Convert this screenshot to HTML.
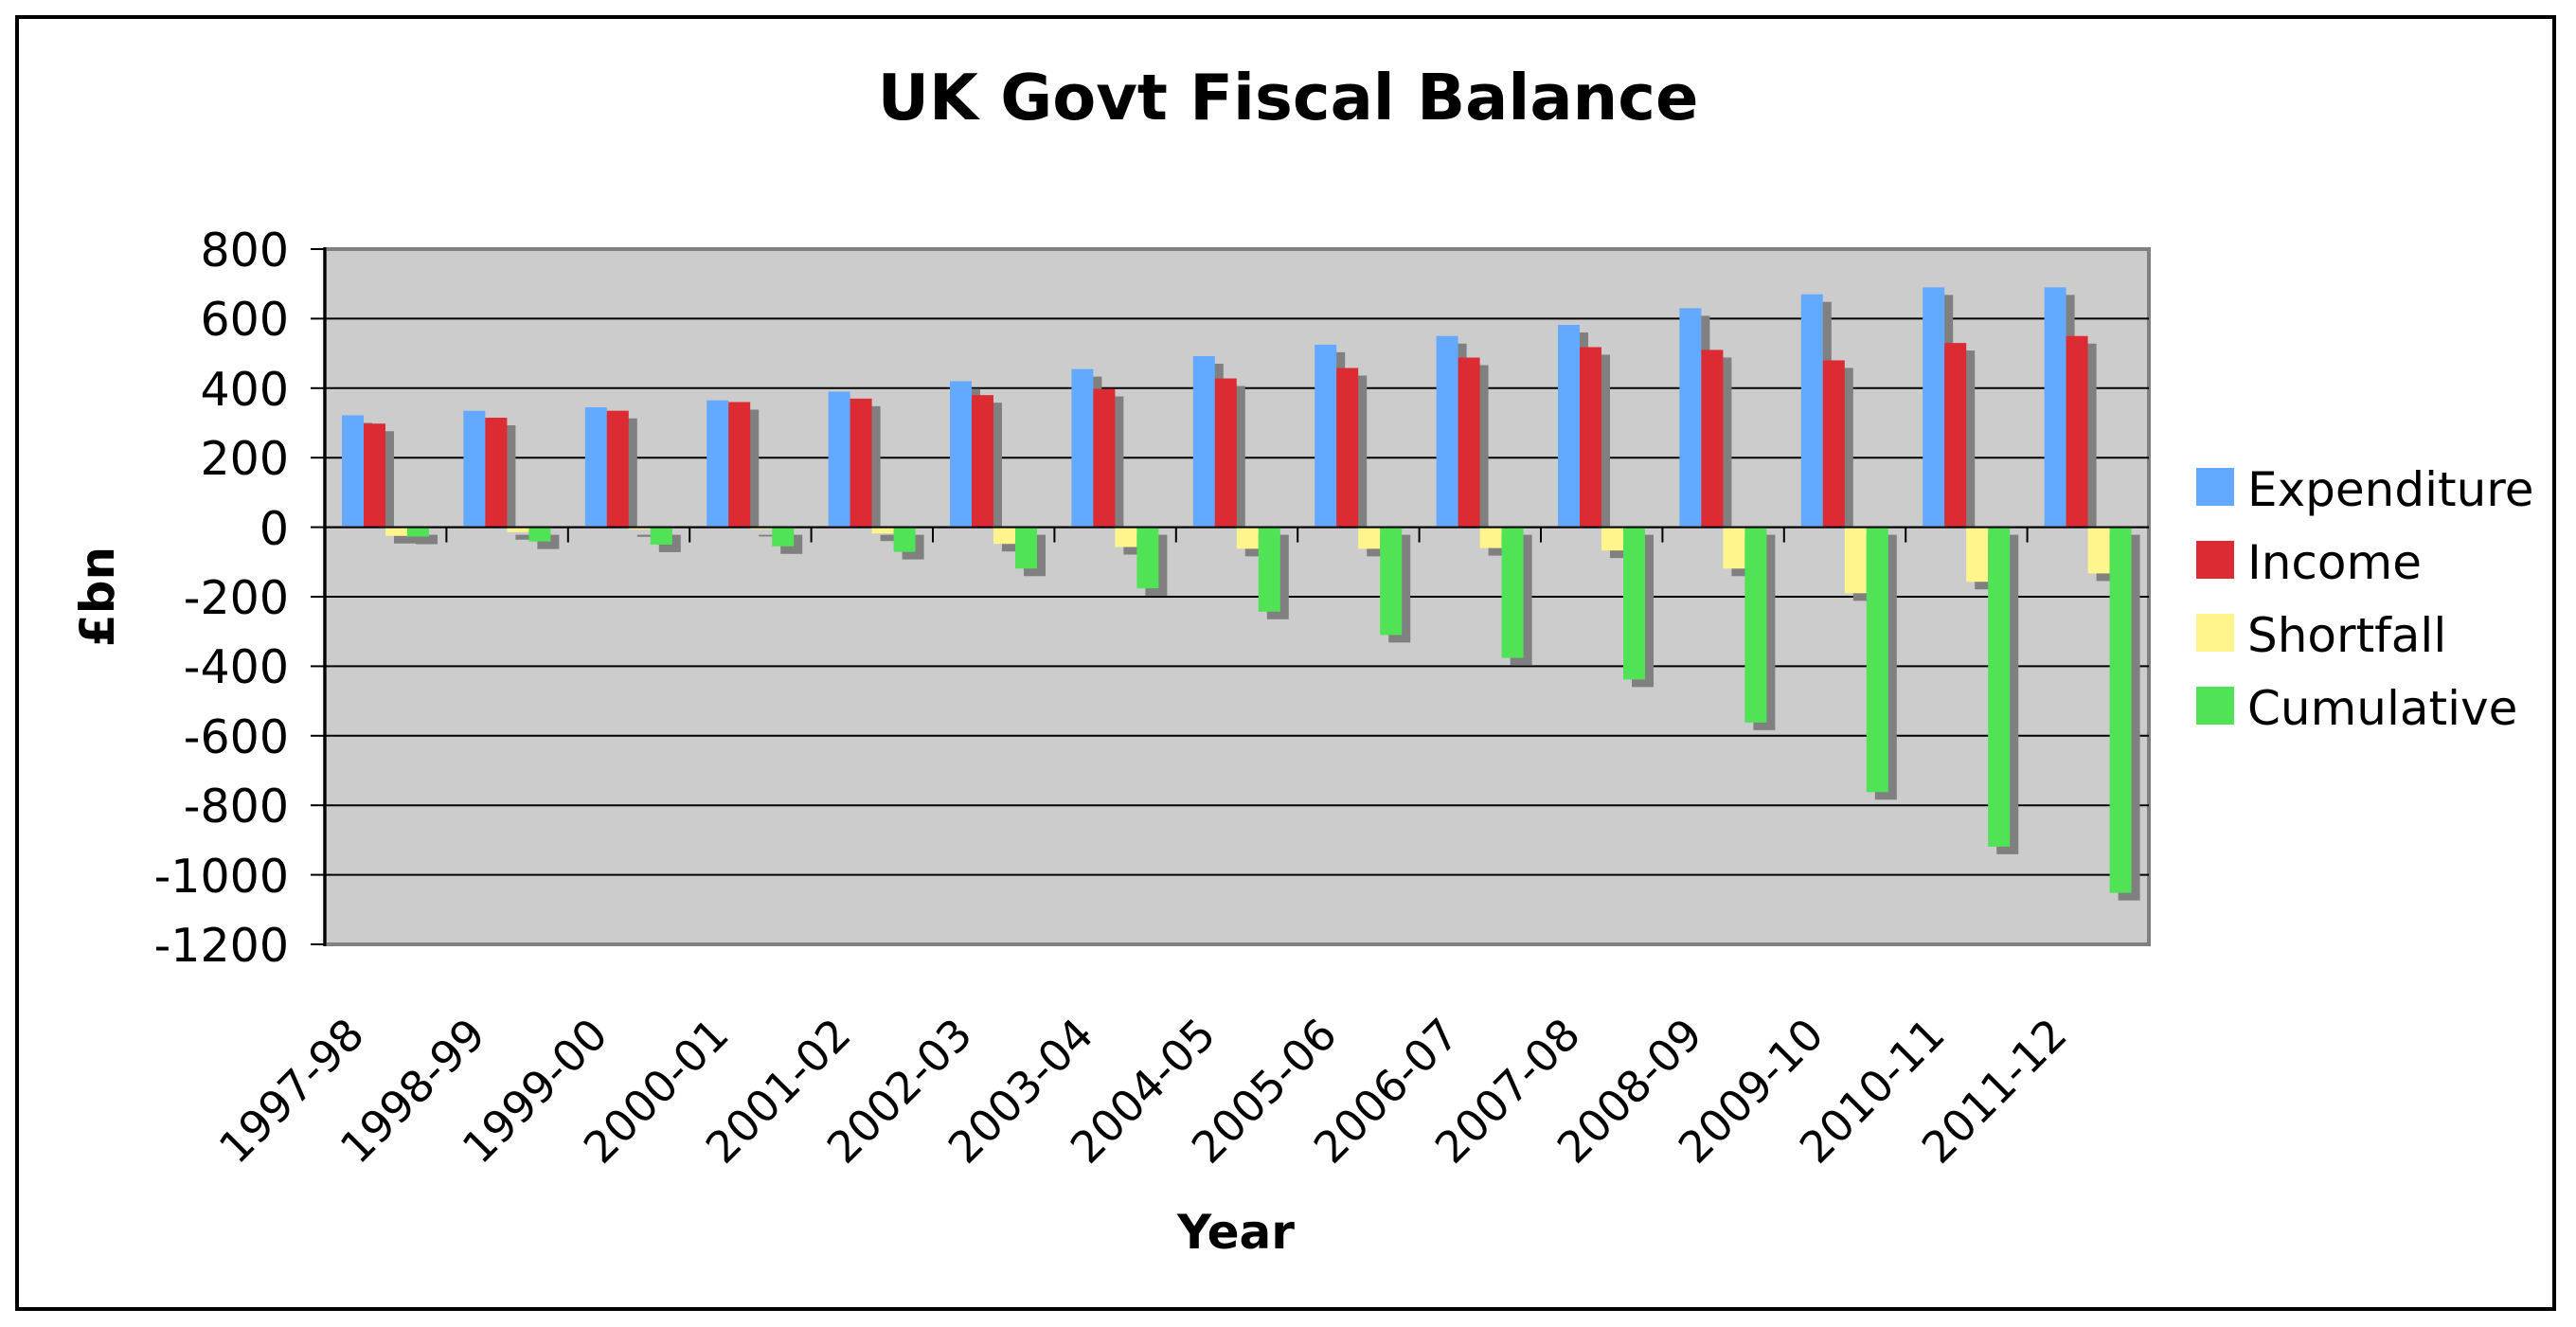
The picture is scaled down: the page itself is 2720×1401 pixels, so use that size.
<!DOCTYPE html>
<html><head><meta charset="utf-8"><style>
html,body{margin:0;padding:0;background:#fff}
svg{display:block}
text{font-family:"DejaVu Sans","Liberation Sans",sans-serif;fill:#000}
</style></head><body>
<svg id="s" width="2720" height="1401" viewBox="0 0 2720 1401" xmlns="http://www.w3.org/2000/svg">
<rect x="0" y="0" width="2720" height="1401" fill="#fff"/>
<rect x="18" y="18" width="2679" height="1364" fill="none" stroke="#000" stroke-width="4"/>
<text x="1360" y="126" font-size="67" font-weight="bold" text-anchor="middle">UK Govt Fiscal Balance</text>
<rect x="343" y="263" width="1926" height="734" fill="#cccccc" stroke="#808080" stroke-width="4"/>
<g id="grid" stroke="#000" stroke-width="2"></g>
<g id="bars"></g>
<line x1="343" y1="261" x2="343" y2="999" stroke="#000" stroke-width="3"/>
<g font-size="49" text-anchor="end">
<text x="305" y="281">800</text>
<text x="305" y="354">600</text>
<text x="305" y="428">400</text>
<text x="305" y="501">200</text>
<text x="305" y="575">0</text>
<text x="305" y="648">-200</text>
<text x="305" y="721">-400</text>
<text x="305" y="795">-600</text>
<text x="305" y="868">-800</text>
<text x="305" y="942">-1000</text>
<text x="305" y="1015">-1200</text>
</g>
<text transform="translate(120,630) rotate(-90)" font-size="50" font-weight="bold" text-anchor="middle">£bn</text>
<text x="1305" y="1318" font-size="50" font-weight="bold" text-anchor="middle">Year</text>
<g font-size="46" text-anchor="end">
<text transform="translate(387,1095) rotate(-45)">1997-98</text>
<text transform="translate(515,1095) rotate(-45)">1998-99</text>
<text transform="translate(644,1095) rotate(-45)">1999-00</text>
<text transform="translate(772,1095) rotate(-45)">2000-01</text>
<text transform="translate(901,1095) rotate(-45)">2001-02</text>
<text transform="translate(1029,1095) rotate(-45)">2002-03</text>
<text transform="translate(1157,1095) rotate(-45)">2003-04</text>
<text transform="translate(1286,1095) rotate(-45)">2004-05</text>
<text transform="translate(1414,1095) rotate(-45)">2005-06</text>
<text transform="translate(1543,1095) rotate(-45)">2006-07</text>
<text transform="translate(1671,1095) rotate(-45)">2007-08</text>
<text transform="translate(1800,1095) rotate(-45)">2008-09</text>
<text transform="translate(1928,1095) rotate(-45)">2009-10</text>
<text transform="translate(2056,1095) rotate(-45)">2010-11</text>
<text transform="translate(2185,1095) rotate(-45)">2011-12</text>
</g>
<rect x="2319" y="494" width="40" height="40" fill="#63a9ff"/>
<rect x="2319" y="571" width="40" height="40" fill="#dc2b33"/>
<rect x="2319" y="648" width="40" height="40" fill="#fff58c"/>
<rect x="2319" y="725" width="40" height="40" fill="#4fe355"/>
<g font-size="50">
<text x="2373" y="534">Expenditure</text>
<text x="2373" y="611">Income</text>
<text x="2373" y="688">Shortfall</text>
<text x="2373" y="765">Cumulative</text>
</g>
</svg>
<script>
(function(){
var NS="http://www.w3.org/2000/svg";
function el(p,t,a){var e=document.createElementNS(NS,t);for(var k in a)e.setAttribute(k,a[k]);p.appendChild(e);return e;}
var g=document.getElementById("grid"),b=document.getElementById("bars");
var y0=556.6,u=73.4/200,L=343,W=128.4;
function Y(v){return y0-v*u;}
for(var v=-1000;v<=600;v+=200){el(g,"line",{x1:L,y1:Y(v),x2:2269,y2:Y(v)});}
for(var v=-1200;v<=800;v+=200){el(g,"line",{x1:328,y1:Y(v),x2:L,y2:Y(v)});}
for(var i=1;i<15;i++){el(g,"line",{x1:L+i*W,y1:y0,x2:L+i*W,y2:y0+16});}
var D=[
[322,335,345,365,390,420,455,492,525,550,582,630,670,690,690],
[298,315,335,360,370,380,398,428,458,488,518,510,480,530,550],
[-25,-14,-6,-5,-18,-48,-57,-62,-62,-60,-67,-119,-190,-157,-133],
[-27,-41,-50,-55,-71,-119,-176,-243,-310,-376,-438,-562,-762,-919,-1052]];
var C=["#63a9ff","#dc2b33","#fff58c","#4fe355"];
var bw=23;
for(var i=0;i<15;i++){
 var x0=L+i*W+18;
 for(var s=0;s<4;s++){var v=D[s][i],x=x0+s*bw+9;
  if(v>=0){el(b,"rect",{x:x,y:Y(v)+8,width:bw,height:Math.max(0,y0-Y(v)-8),fill:"#808080"});}
  else{el(b,"rect",{x:x,y:y0+8,width:bw,height:Y(v)-y0,fill:"#808080"});}
 }
 for(var s=0;s<4;s++){var v=D[s][i],x=x0+s*bw;
  var t=Math.min(Y(v),y0),h=Math.abs(Y(v)-y0);
  el(b,"rect",{x:x,y:t,width:bw,height:h,fill:C[s]});
 }
}
el(b,"line",{x1:L,y1:y0,x2:2269,y2:y0,stroke:"#000","stroke-width":2});
})();
</script>
</body></html>
